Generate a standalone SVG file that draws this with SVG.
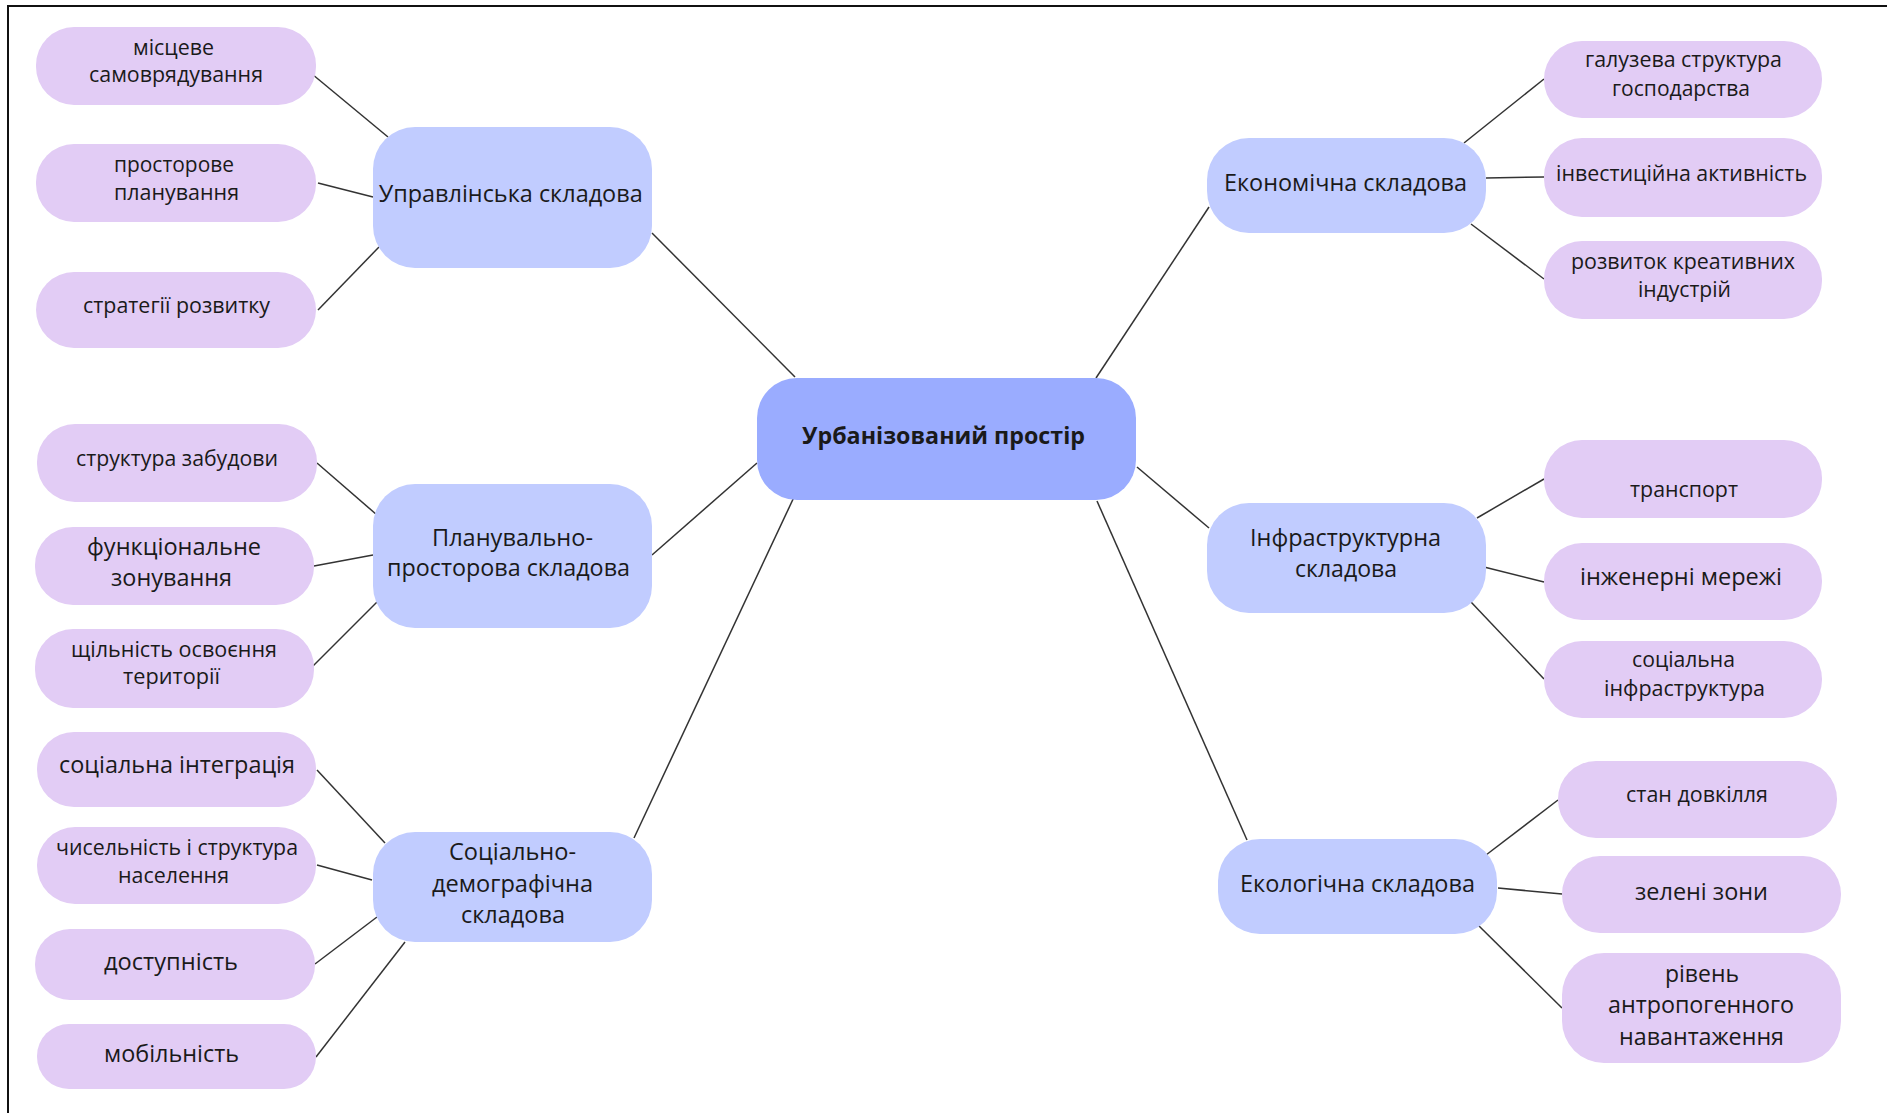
<svg xmlns="http://www.w3.org/2000/svg" width="1887" height="1113" viewBox="0 0 1887 1113">
<style>
  text { font-family: "Open Sans", "Noto Sans", "Liberation Sans", sans-serif; fill: #1a1a1a; text-anchor: middle; }
  .leaf rect { fill: #E2CCF5; }
  .mid rect { fill: #C1CCFF; }
  .root rect { fill: #9AACFF; }
  .s { font-size: 21px; }
  .m { font-size: 23px; }
  .b { font-size: 23px; font-weight: 700; }
  .edges line { stroke: #333333; stroke-width: 1.5; }
</style>
<rect x="0" y="0" width="1887" height="1113" fill="#ffffff"/>
<path d="M 8 1113 V 6 H 1887" fill="none" stroke="#111111" stroke-width="2"/>

<g class="edges" id="connectors">
  <line x1="312" y1="74" x2="388" y2="137"/>
  <line x1="318" y1="183" x2="373" y2="197"/>
  <line x1="318" y1="310" x2="379" y2="247"/>
  <line x1="652" y1="233" x2="795" y2="377"/>
  <line x1="317" y1="463" x2="377" y2="515"/>
  <line x1="314" y1="566" x2="373" y2="555"/>
  <line x1="312" y1="667" x2="377" y2="602"/>
  <line x1="652" y1="555" x2="757" y2="463"/>
  <line x1="317" y1="770" x2="385" y2="843"/>
  <line x1="317" y1="865" x2="372" y2="880"/>
  <line x1="315" y1="964" x2="377" y2="917"/>
  <line x1="316" y1="1057" x2="405" y2="942"/>
  <line x1="634" y1="838" x2="795" y2="495"/>
  <line x1="1096" y1="378" x2="1209" y2="207"/>
  <line x1="1464" y1="143" x2="1544" y2="79"/>
  <line x1="1486" y1="178" x2="1544" y2="177"/>
  <line x1="1471" y1="224" x2="1544" y2="279"/>
  <line x1="1137" y1="467" x2="1209" y2="528"/>
  <line x1="1477" y1="518" x2="1544" y2="479"/>
  <line x1="1484" y1="567" x2="1544" y2="582"/>
  <line x1="1471" y1="602" x2="1544" y2="679"/>
  <line x1="1097" y1="501" x2="1247" y2="840"/>
  <line x1="1486" y1="855" x2="1558" y2="800"/>
  <line x1="1498" y1="888" x2="1562" y2="894"/>
  <line x1="1478" y1="925" x2="1562" y2="1008"/>
</g>

<g id="root" class="root">
  <rect x="757" y="378" width="379" height="122" rx="40"/>
  <text class="b" x="943.5" y="444" textLength="283" lengthAdjust="spacingAndGlyphs">Урбанізований простір</text>
</g>

<g id="upr" class="mid">
  <rect x="373" y="127" width="279" height="141" rx="42"/>
  <text class="m" x="510.7" y="202" textLength="264" lengthAdjust="spacingAndGlyphs">Управлінська складова</text>
</g>
<g id="plan" class="mid">
  <rect x="373" y="484" width="279" height="144" rx="42"/>
  <text class="m" x="512.5" y="546" textLength="161" lengthAdjust="spacingAndGlyphs">Планувально-</text>
  <text class="m" x="508.5" y="576" textLength="243" lengthAdjust="spacingAndGlyphs">просторова складова</text>
</g>
<g id="soc" class="mid">
  <rect x="373" y="832" width="279" height="110" rx="42"/>
  <text class="m" x="512.5" y="860" textLength="127" lengthAdjust="spacingAndGlyphs">Соціально-</text>
  <text class="m" x="512.5" y="892" textLength="161" lengthAdjust="spacingAndGlyphs">демографічна</text>
  <text class="m" x="513" y="923" textLength="104" lengthAdjust="spacingAndGlyphs">складова</text>
</g>
<g id="ekon" class="mid">
  <rect x="1207" y="138" width="279" height="95" rx="42"/>
  <text class="m" x="1345.5" y="191" textLength="243" lengthAdjust="spacingAndGlyphs">Економічна складова</text>
</g>
<g id="infr" class="mid">
  <rect x="1207" y="503" width="279" height="110" rx="42"/>
  <text class="m" x="1345.5" y="546" textLength="191" lengthAdjust="spacingAndGlyphs">Інфраструктурна</text>
  <text class="m" x="1346" y="577" textLength="102" lengthAdjust="spacingAndGlyphs">складова</text>
</g>
<g id="ekol" class="mid">
  <rect x="1218" y="839" width="279" height="95" rx="42"/>
  <text class="m" x="1357.5" y="892" textLength="235" lengthAdjust="spacingAndGlyphs">Екологічна складова</text>
</g>

<g id="l1" class="leaf">
  <rect x="36" y="27" width="280" height="78" rx="38"/>
  <text class="s" x="173.5" y="55" textLength="81" lengthAdjust="spacingAndGlyphs">місцеве</text>
  <text class="s" x="176" y="82" textLength="174" lengthAdjust="spacingAndGlyphs">самоврядування</text>
</g>
<g id="l2" class="leaf">
  <rect x="36" y="144" width="280" height="78" rx="38"/>
  <text class="s" x="174" y="172" textLength="120" lengthAdjust="spacingAndGlyphs">просторове</text>
  <text class="s" x="176.5" y="200" textLength="125" lengthAdjust="spacingAndGlyphs">планування</text>
</g>
<g id="l3" class="leaf">
  <rect x="36" y="272" width="280" height="76" rx="38"/>
  <text class="s" x="176.5" y="313" textLength="187" lengthAdjust="spacingAndGlyphs">стратегії розвитку</text>
</g>
<g id="l4" class="leaf">
  <rect x="37" y="424" width="280" height="78" rx="38"/>
  <text class="s" x="177" y="466" textLength="202" lengthAdjust="spacingAndGlyphs">структура забудови</text>
</g>
<g id="l5" class="leaf">
  <rect x="35" y="527" width="279" height="78" rx="38"/>
  <text class="m" x="174" y="555" textLength="174" lengthAdjust="spacingAndGlyphs">функціональне</text>
  <text class="m" x="171.5" y="586" textLength="121" lengthAdjust="spacingAndGlyphs">зонування</text>
</g>
<g id="l6" class="leaf">
  <rect x="35" y="629" width="279" height="79" rx="38"/>
  <text class="s" x="174" y="657" textLength="206" lengthAdjust="spacingAndGlyphs">щільність освоєння</text>
  <text class="s" x="171.5" y="684" textLength="97" lengthAdjust="spacingAndGlyphs">території</text>
</g>
<g id="l7" class="leaf">
  <rect x="37" y="732" width="279" height="75" rx="37"/>
  <text class="m" x="177" y="773" textLength="236" lengthAdjust="spacingAndGlyphs">соціальна інтеграція</text>
</g>
<g id="l8" class="leaf">
  <rect x="37" y="827" width="279" height="77" rx="38"/>
  <text class="s" x="177" y="855" textLength="242" lengthAdjust="spacingAndGlyphs">чисельність і структура</text>
  <text class="s" x="173.5" y="883" textLength="111" lengthAdjust="spacingAndGlyphs">населення</text>
</g>
<g id="l9" class="leaf">
  <rect x="35" y="929" width="280" height="71" rx="35"/>
  <text class="m" x="171" y="970" textLength="134" lengthAdjust="spacingAndGlyphs">доступність</text>
</g>
<g id="l10" class="leaf">
  <rect x="37" y="1024" width="279" height="65" rx="32"/>
  <text class="m" x="171.5" y="1062" textLength="135" lengthAdjust="spacingAndGlyphs">мобільність</text>
</g>

<g id="r1" class="leaf">
  <rect x="1544" y="41" width="278" height="77" rx="38"/>
  <text class="s" x="1683.5" y="67" textLength="197" lengthAdjust="spacingAndGlyphs">галузева структура</text>
  <text class="s" x="1681" y="96" textLength="138" lengthAdjust="spacingAndGlyphs">господарства</text>
</g>
<g id="r2" class="leaf">
  <rect x="1544" y="138" width="278" height="79" rx="38"/>
  <text class="s" x="1681.5" y="181" textLength="251" lengthAdjust="spacingAndGlyphs">інвестиційна активність</text>
</g>
<g id="r3" class="leaf">
  <rect x="1544" y="241" width="278" height="78" rx="38"/>
  <text class="s" x="1683" y="269" textLength="224" lengthAdjust="spacingAndGlyphs">розвиток креативних</text>
  <text class="s" x="1684.5" y="297" textLength="93" lengthAdjust="spacingAndGlyphs">індустрій</text>
</g>
<g id="r4" class="leaf">
  <rect x="1544" y="440" width="278" height="78" rx="38"/>
  <text class="s" x="1684" y="497" textLength="108" lengthAdjust="spacingAndGlyphs">транспорт</text>
</g>
<g id="r5" class="leaf">
  <rect x="1544" y="543" width="278" height="77" rx="38"/>
  <text class="m" x="1681" y="585" textLength="202" lengthAdjust="spacingAndGlyphs">інженерні мережі</text>
</g>
<g id="r6" class="leaf">
  <rect x="1544" y="641" width="278" height="77" rx="38"/>
  <text class="s" x="1683.5" y="667" textLength="103" lengthAdjust="spacingAndGlyphs">соціальна</text>
  <text class="s" x="1684.5" y="696" textLength="161" lengthAdjust="spacingAndGlyphs">інфраструктура</text>
</g>
<g id="r7" class="leaf">
  <rect x="1558" y="761" width="279" height="77" rx="38"/>
  <text class="s" x="1697" y="802" textLength="142" lengthAdjust="spacingAndGlyphs">стан довкілля</text>
</g>
<g id="r8" class="leaf">
  <rect x="1562" y="856" width="279" height="77" rx="38"/>
  <text class="m" x="1701.5" y="900" textLength="133" lengthAdjust="spacingAndGlyphs">зелені зони</text>
</g>
<g id="r9" class="leaf">
  <rect x="1562" y="953" width="279" height="110" rx="42"/>
  <text class="m" x="1702" y="982" textLength="74" lengthAdjust="spacingAndGlyphs">рівень</text>
  <text class="m" x="1701" y="1013" textLength="186" lengthAdjust="spacingAndGlyphs">антропогенного</text>
  <text class="m" x="1701.5" y="1045" textLength="165" lengthAdjust="spacingAndGlyphs">навантаження</text>
</g>
</svg>
